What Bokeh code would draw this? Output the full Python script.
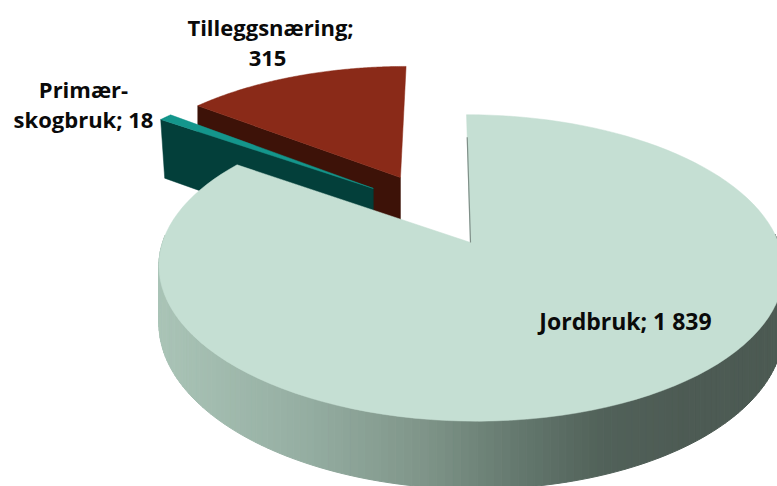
import numpy as np
from bokeh.plotting import figure
from bokeh.embed import file_html
from bokeh.resources import INLINE
from bokeh.models import Range1d
from bokeh.core.properties import value

categories = ["Jordbruk", "Primær-skogbruk", "Tilleggsnæring"]
values = [1839, 18, 315]

W, H = 777, 486
# the figure's data space is the reference's pixel space, y down
p = figure(width=W, height=H, output_backend="svg", toolbar_location=None,
           x_range=Range1d(0, W), y_range=Range1d(H, 0),
           min_border=0, outline_line_color=None)
p.axis.visible = False
p.grid.visible = False
p.background_fill_color = "white"
p.border_fill_color = "white"

CX, CY, A, B, K, SKEW, DEPTH = 470.0, 242.0, 149.0, 308.0, 0.166, -4.0, 56.7


def proj(u, v, z=0.0):
    d = 1 + K * v
    return CX + (B * u + SKEW * 1.166 * v) / d, CY - A * v / d + z * DEPTH / d


def rim(t0, t1, off=(0, 0), z=0.0, n=120):
    t = np.linspace(t0, t1, n)
    return proj(np.sin(t) + off[0], np.cos(t) + off[1], z)


total = sum(values)
edges = np.cumsum([0] + values) / total * 2 * np.pi
offsets = [(0, 0), (-0.330, 0.386), (-0.238, 0.470)]

# --- Tilleggsnæring (back) ---
t0, t1 = edges[2], edges[3]
off = offsets[2]
ax, ay = proj(off[0], off[1])
bx, by = proj(off[0], off[1], 1)
rx, ry = proj(np.sin(t0) + off[0], np.cos(t0) + off[1])
qx, qy = proj(np.sin(t0) + off[0], np.cos(t0) + off[1], 1)
p.patch([rx, ax, bx, qx], [ry, ay, by, qy], fill_color="#3d1208", line_color="#3d1208", line_width=0.5)
rrx, rry = rim(t0, t1, off)
p.patch([ax, *rrx], [ay, *rry], fill_color="#8a2a18", line_color="#8a2a18", line_width=0.5)

# --- Primær-skogbruk ---
t0, t1 = edges[1], edges[2]
off = offsets[1]
ax, ay = proj(off[0], off[1])
bx, by = proj(off[0], off[1], 1.2)
rx, ry = proj(np.sin(t0) + off[0], np.cos(t0) + off[1])
qx, qy = proj(np.sin(t0) + off[0], np.cos(t0) + off[1], 1.2)
p.patch([rx, ax, bx, qx + 4], [ry, ay, by, qy], fill_color="#033f3a", line_color="#033f3a", line_width=0.5)
rrx, rry = rim(t0, t1, off)
p.patch([ax, *rrx], [ay, *rry], fill_color="#14968c", line_color="#14968c", line_width=0.5)

# --- Jordbruk: curved wall drawn as short shaded quads ---
t0, t1 = edges[0], edges[1]
ts = np.linspace(t0, t1, 240)
stops_x = [160, 300, 420, 520, 600, 680, 777]
stops_c = [(170, 196, 183), (150, 175, 163), (128, 150, 138), (100, 120, 110), (82, 98, 90), (78, 92, 85), (76, 90, 83)]
xs_q, ys_q, cols = [], [], []
for a, b in zip(ts[:-1], ts[1:]):
    if np.cos((a + b) / 2) > 0.05:
        continue
    x0, y0 = proj(np.sin(a), np.cos(a))
    x1, y1 = proj(np.sin(b), np.cos(b))
    x2, y2 = proj(np.sin(b), np.cos(b), 1)
    x3, y3 = proj(np.sin(a), np.cos(a), 1)
    xm = (x0 + x1) / 2
    c = [int(np.interp(xm, stops_x, [s[i] for s in stops_c])) for i in range(3)]
    col = "#%02x%02x%02x" % tuple(c)
    xs_q.append([x0, x1, x2, x3])
    ys_q.append([y0, y1, y2, y3])
    cols.append(col)
p.patches(xs_q, ys_q, fill_color=cols, line_color=cols, line_width=1)

rrx, rry = rim(t0, t1)
p.patch([CX, *rrx], [CY, *rry], fill_color="#c5dfd3", line_color="#c5dfd3", line_width=0.5)
# inner wall sliver at the start of the big slice
sx0, sy0 = proj(0, 0.80)
sx1, sy1 = proj(0, 0.0)
p.line([sx0, sx1], [sy0, sy1], line_color="#7f8f88", line_width=1.2)

# --- labels ---
lab_x = [625, 270, 267, 83, 83]
lab_y = [320, 26, 58, 88, 118]
labs = [f"{categories[0]}; 1 839", "Tilleggsnæring;", "315", "Primær-", "skogbruk; 18"]
lab_size = ["23px", "22px", "22px", "22px", "22px"]
p.text(lab_x, lab_y, text=labs, text_font=value("Open Sans"), text_font_style="bold",
       text_font_size=lab_size, text_align="center", text_baseline="middle", text_color="#0a0a0a")

open("out.html", "w").write(file_html(p, INLINE))
